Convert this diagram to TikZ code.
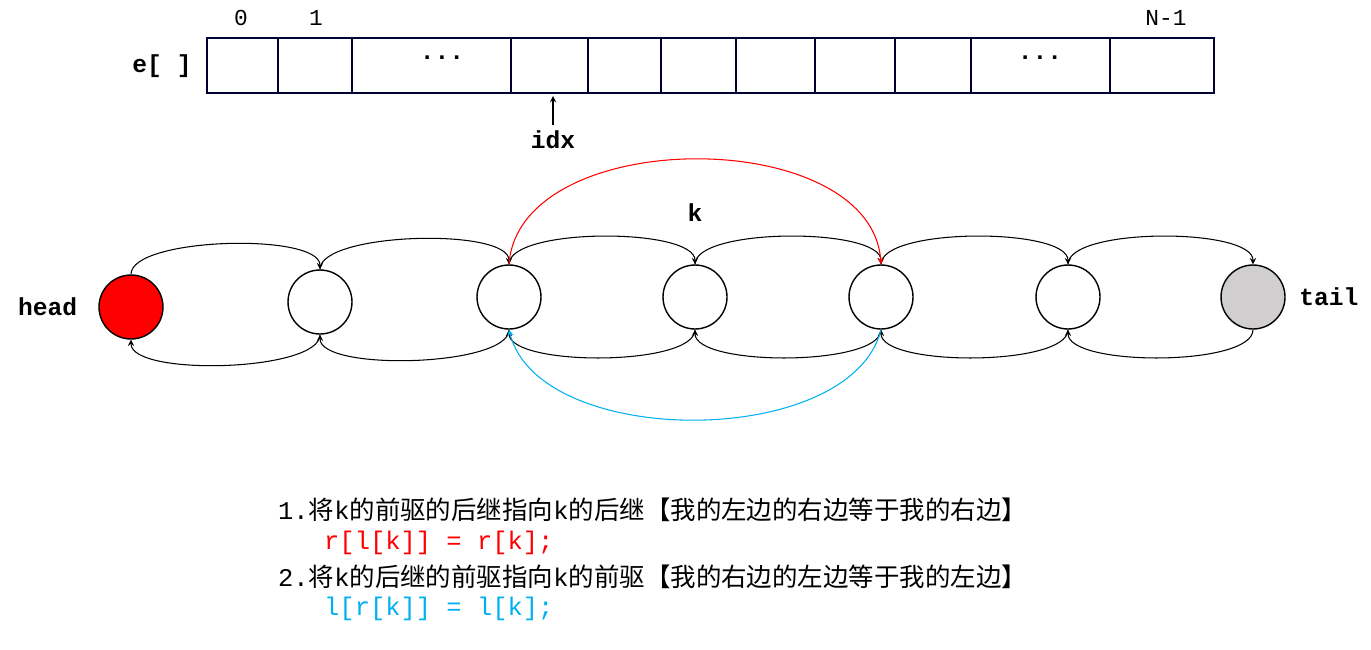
\documentclass[tikz,border=0pt]{standalone}
\usepackage{fontspec}
\setmonofont{Liberation Mono}
\newfontfamily\cjk{Noto Sans CJK SC}
\usetikzlibrary{positioning}
\definecolor{cyanblue}{RGB}{0,176,240}
\definecolor{tailgray}{RGB}{208,206,206}
\begin{document}
\begin{tikzpicture}[x=0.02cm,y=-0.02cm,>=stealth,font=\ttfamily\fontsize{13}{16}\selectfont]
    \tikzstyle{cell}=[draw=black!80!blue,thick]
    \tikzstyle{elem}=[circle,draw,thick,minimum size=1.28cm,inner sep=0pt]
    \tikzstyle{link}=[->,semithick]
    \tikzstyle{tag}=[font=\ttfamily\bfseries\fontsize{14}{16}\selectfont]
    \useasboundingbox (0,0) rectangle (1371,649);

    % array e[]
    \draw[cell] (207,38) rectangle (1214,93);
    \foreach \x in {278,352,511,588,661,736,815,895,971,1110}
        \draw[cell] (\x,38) -- (\x,93);
    \node (lbl0) at (241,18) {0};
    \node (lbl1) at (316,18) {1};
    \node (lblN) at (1166,18) {N-1};
    \node[tag] (arr) at (162,66) {e[ ]};
    \node[tag] (dots1) at (442,58) {...};
    \node[tag] (dots2) at (1040,58) {...};
    \node[tag] (idx) at (553,140) {idx};
    \coordinate (idxtip) at (553,96);
    \draw[->,semithick] (idx.north) -- (idxtip);

    % list nodes
    \node[elem,fill=red] (c0) at (131,307) {};
    \node[elem] (c1) at (320,302) {};
    \node[elem] (c2) at (509,297) {};
    \node[elem] (c3) at (695,297) {};
    \node[elem] (c4) at (881,297) {};
    \node[elem] (c5) at (1068,297) {};
    \node[elem,fill=tailgray] (c6) at (1253,297) {};
    \node[tag,left=0.3cm of c0] (head) {head};
    \node[tag,right=0.15cm of c6] (tail) {tail};
    \node[tag] (k) at (695,213) {k};

    % r[] and l[] links
    \foreach \a/\b in {c0/c1,c1/c2,c2/c3,c3/c4,c4/c5,c5/c6} {
        \draw[link] (\a.north) .. controls +(0,-37) and +(0,-37) .. (\b.north);
        \draw[link] (\b.south) .. controls +(0,37) and +(0,37) .. (\a.south);
    }

    % deleting k
    \draw[link,red] (c2.north) .. controls +(10,-140) and +(-10,-140) .. (c4.north);
    \draw[link,cyanblue] (c4.south) .. controls +(-30,120) and +(30,120) .. (c2.south);

    % notes
    \node[anchor=west] (s1) at (272,510) {\fontsize{14.5}{17}\selectfont 1.{\cjk 将}k{\cjk 的前驱的后继指向}k{\cjk 的后继【我的左边的右边等于我的右边】}};
    \node[anchor=west,red] (s2) at (318,543) {\fontsize{14.5}{17}\selectfont r[l[k]] = r[k];};
    \node[anchor=west] (s3) at (272,577) {\fontsize{14.5}{17}\selectfont 2.{\cjk 将}k{\cjk 的后继的前驱指向}k{\cjk 的前驱【我的右边的左边等于我的左边】}};
    \node[anchor=west,cyanblue] (s4) at (318,609) {\fontsize{14.5}{17}\selectfont l[r[k]] = l[k];};
\end{tikzpicture}
\end{document}
